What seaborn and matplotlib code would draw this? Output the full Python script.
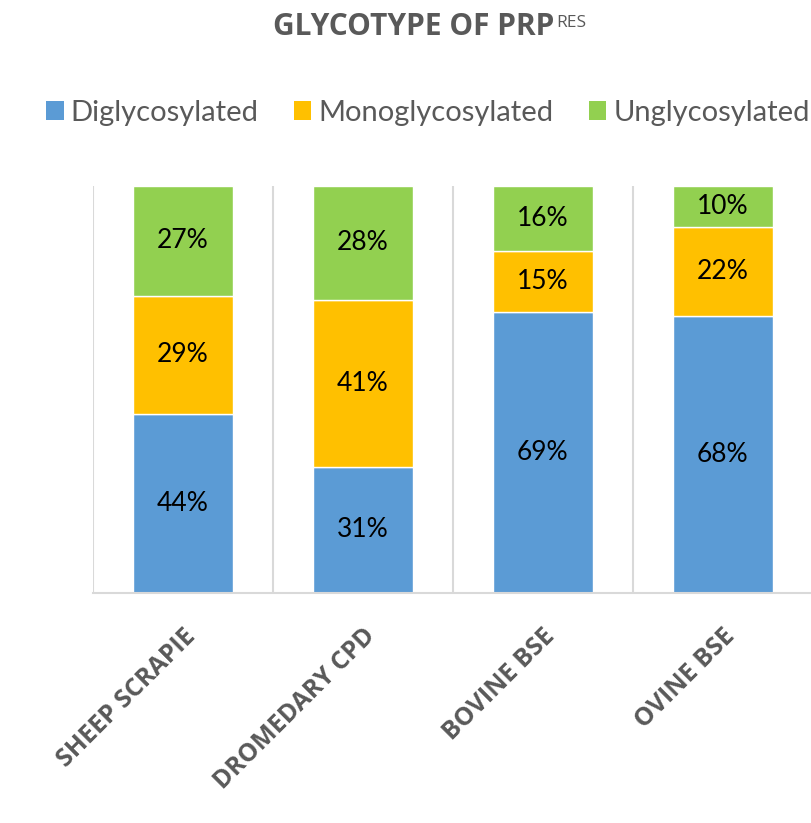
import matplotlib
matplotlib.use("Agg")
import matplotlib.pyplot as plt
from matplotlib.patches import Patch
from matplotlib.ticker import FixedLocator, NullLocator
import numpy as np
import pandas as pd
import seaborn as sns

# data
groups = ["Sheep scrapie", "Dromedary CPD", "Bovine BSE", "Ovine BSE"]
tick_labels = ["SHEEP SCRAPIE", "DROMEDARY CPD", "BOVINE BSE", "OVINE BSE"]
diglycosylated = [44, 31, 69, 68]
monoglycosylated = [29, 41, 15, 22]
unglycosylated = [27, 28, 16, 10]

series = ["Diglycosylated", "Monoglycosylated", "Unglycosylated"]
colors = ["#5B9BD5", "#FFC000", "#92D050"]
text_gray = "#595959"
grid_gray = "#D9D9D9"

sns.set_theme(style="white")
plt.rcParams["font.family"] = ["Lato", "DejaVu Sans"]

fig = plt.figure(figsize=(8.11, 8.23), dpi=100)
ax = fig.add_axes([93 / 811, 1 - 593 / 823, 1 - 93 / 811 + 0.002, (593 - 186) / 823])

df = pd.DataFrame({"group": groups,
                   "Diglycosylated": diglycosylated,
                   "Monoglycosylated": monoglycosylated,
                   "Unglycosylated": unglycosylated})

bottom = np.zeros(len(groups))
for name, col in zip(series, colors):
    vals = df[name].to_numpy(dtype=float)
    sns.barplot(data=df, x="group", y=name, order=groups, color=col,
                width=0.555, bottom=bottom, saturation=1, ax=ax, legend=False)
    for i, v in enumerate(vals):
        ax.text(i, bottom[i] + v / 2, f"{int(v)}%", ha="center", va="center",
                fontsize=19, color="black")
    bottom = bottom + vals

ax.set_xlim(-0.5, len(groups) - 0.5)
ax.set_ylim(0, 100)
ax.set_xlabel("")
ax.set_ylabel("")
ax.yaxis.set_major_locator(NullLocator())

# vertical separators between categories
ax.xaxis.set_minor_locator(FixedLocator(np.arange(-0.5, len(groups), 1.0)))
ax.grid(False)
ax.grid(True, which="minor", axis="x", color=grid_gray, linewidth=1.5)
ax.set_axisbelow(True)

ax.set_xticks(range(len(groups)))
ax.set_xticklabels(tick_labels, rotation=45, ha="right", rotation_mode="anchor",
                   fontsize=18, fontweight="bold", color=text_gray,
                   family=["Open Sans", "DejaVu Sans"])
ax.tick_params(axis="x", which="major", length=0, pad=22)
ax.tick_params(axis="x", which="minor", length=0)

for s in ["top", "right", "left"]:
    ax.spines[s].set_visible(False)
ax.spines["bottom"].set_color(grid_gray)
ax.spines["bottom"].set_linewidth(1.5)

handles = [Patch(facecolor=c, edgecolor="none") for c in colors]
fig.legend(handles, series, loc="center", bbox_to_anchor=(428 / 811, 1 - 113 / 823),
           ncol=3, frameon=False, fontsize=21, handlelength=0.6, handleheight=0.6,
           handletextpad=0.25, columnspacing=1.2, labelcolor=text_gray)

title = fig.text(0.51, 1 - 27 / 823, "GLYCOTYPE OF PRP", ha="center", va="center",
                 fontsize=21.5, fontweight="bold", color=text_gray,
                 family=["Open Sans", "DejaVu Sans"])
ax.annotate("RES", xy=(1, 1), xycoords=title, xytext=(1.5, -2), textcoords="offset points",
            ha="left", va="top", fontsize=12.5, color=text_gray,
            family=["Open Sans", "DejaVu Sans"], annotation_clip=False)

fig.savefig("out.png", dpi=100)
